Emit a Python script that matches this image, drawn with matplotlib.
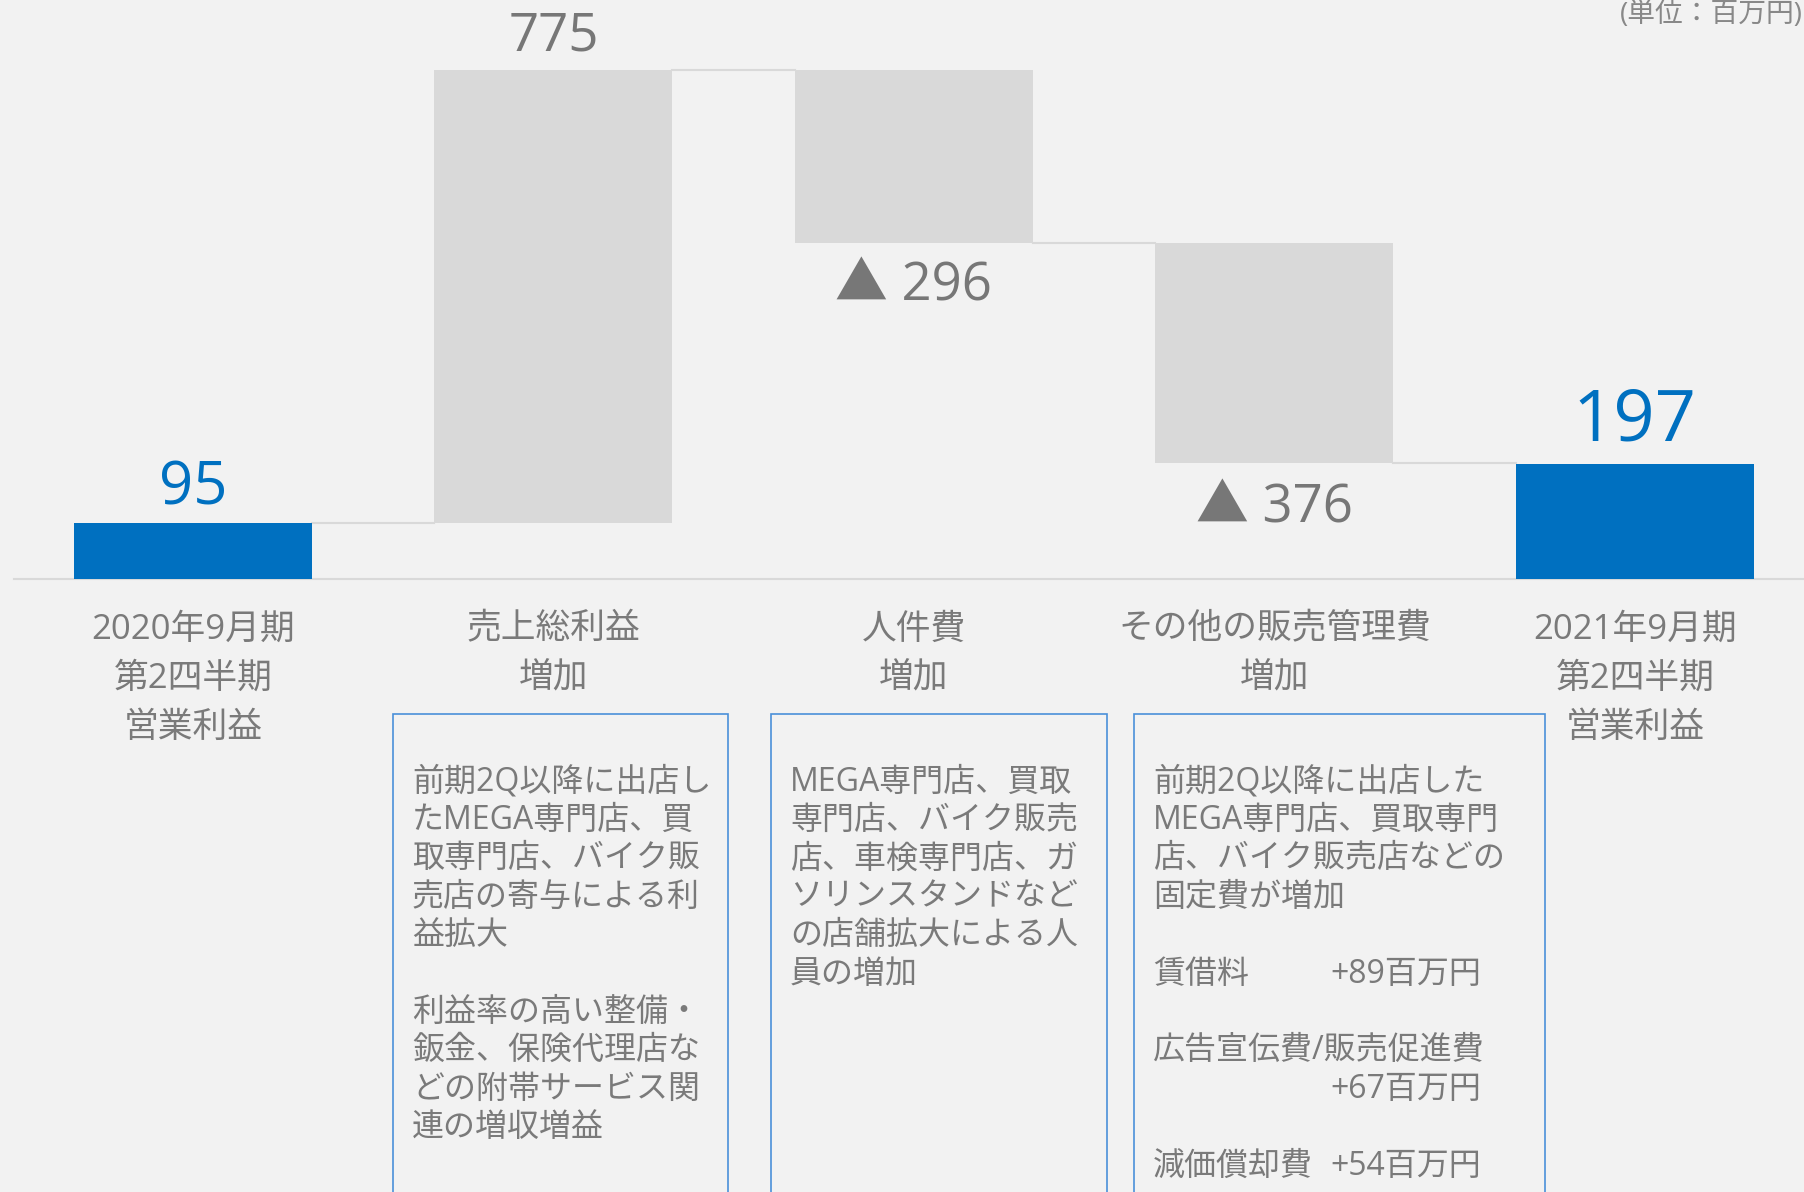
import matplotlib
matplotlib.use("Agg")
import matplotlib.pyplot as plt
import matplotlib.transforms as mtransforms
from matplotlib.patches import Rectangle

plt.rcParams['font.family'] = ['Open Sans', 'Noto Sans CJK JP', 'DejaVu Sans']

# --- data ---
categories = ["2020年9月期\n第2四半期\n営業利益", "売上総利益\n増加", "人件費\n増加",
              "その他の販売管理費\n増加", "2021年9月期\n第2四半期\n営業利益"]
values = [95, 775, -296, -376, 197]
is_total = [True, False, False, False, True]
value_labels = ["95", "775", "▲ 296", "▲ 376", "197"]
unit_label = "(単位：百万円)"

box1_lines = ["前期2Q以降に出店し", "たMEGA専門店、買", "取専門店、バイク販", "売店の寄与による利",
              "益拡大", "", "利益率の高い整備・", "鈑金、保険代理店な", "どの附帯サービス関",
              "連の増収増益"]
box2_lines = ["MEGA専門店、買取", "専門店、バイク販売", "店、車検専門店、ガ", "ソリンスタンドなど",
              "の店舗拡大による人", "員の増加"]
box3_lines = [("前期2Q以降に出店した", ""), ("MEGA専門店、買取専門", ""), ("店、バイク販売店などの", ""),
              ("固定費が増加", ""), ("", ""), ("賃借料", "+89百万円"), ("", ""),
              ("広告宣伝費/販売促進費", ""), ("", "+67百万円"), ("", ""), ("減価償却費", "+54百万円")]

BG = "#f2f2f2"
BLUE = "#0070c0"
GRAY_BAR = "#d9d9d9"
TXT = "#7a7a7a"
W, H = 1804, 1192

fig = plt.figure(figsize=(W / 100, H / 100), dpi=100, facecolor=BG)
ax = fig.add_axes([0, 0, 1, 1])
ax.set_facecolor(BG)
ax.set_xlim(-0.535, 4.469)
ax.set_ylim(-1048, 990)
ax.axis("off")

def fx(px):
    return px / W

def fy(py):
    return 1 - py / H

# waterfall bars
bw = 0.66
running = 0
tops = []
for i, (v, tot) in enumerate(zip(values, is_total)):
    if tot:
        bottom, height = 0, v
        running = v
        color = BLUE
    else:
        start = running
        running = running + v
        bottom, height = min(start, running), abs(v)
        color = GRAY_BAR
    ax.bar(i, height, bottom=bottom, width=bw, color=color, zorder=2)
    tops.append((bottom, bottom + height))

# connectors
running = 0
for i, v in enumerate(values[:-1]):
    running = v if is_total[i] else running + v
    ax.plot([i + bw / 2, i + 1 - bw / 2], [running, running], color=GRAY_BAR, lw=1.5, zorder=1)

ax.axhline(0, xmin=fx(14), xmax=1, color=GRAY_BAR, lw=1.5, zorder=1)

# value labels
label_sizes = [43, 38, 38, 38, 52]
label_offsets = [35, 33, 43, 46, 42]
for i, (lab, v) in enumerate(zip(value_labels, values)):
    lo, hi = tops[i]
    color = BLUE if is_total[i] else "#777777"
    if v >= 0:
        ax.annotate(lab, (i, hi), xytext=(0, label_offsets[i] * 0.72), textcoords="offset points",
                    ha="center", va="center", fontsize=label_sizes[i], color=color)
    else:
        ax.annotate(lab, (i, lo), xytext=(0, -label_offsets[i] * 0.72), textcoords="offset points",
                    ha="center", va="center", fontsize=label_sizes[i], color=color)

# category labels
trans = mtransforms.blended_transform_factory(ax.transData, fig.transFigure)
for i, cat in enumerate(categories):
    for j, line in enumerate(cat.split("\n")):
        ax.text(i, fy(629.5 + j * 49), line, transform=trans, ha="center", va="center",
                fontsize=25, color=TXT)

# text boxes
boxes = [(393, 728), (771, 1107), (1134, 1545)]
for x0, x1 in boxes:
    fig.patches.append(Rectangle((fx(x0), fy(1250)), fx(x1 - x0), (1250 - 714) / H,
                                 transform=fig.transFigure, fill=False,
                                 edgecolor="#4a90d9", lw=1.2))

lh = 38.4
y0 = 782
for lines, tx in [(box1_lines, 412), (box2_lines, 790)]:
    for j, line in enumerate(lines):
        fig.text(fx(tx), fy(y0 + j * lh), line, ha="left", va="center", fontsize=23, color=TXT)
for j, (left, right) in enumerate(box3_lines):
    if left:
        fig.text(fx(1153), fy(y0 + j * lh), left, ha="left", va="center", fontsize=23, color=TXT)
    if right:
        fig.text(fx(1481), fy(y0 + j * lh), right, ha="right", va="center", fontsize=23, color=TXT)

fig.text(fx(1803), fy(15), unit_label, ha="right", va="center", fontsize=20, color="#888888")

fig.savefig("out.png", dpi=100, facecolor=BG)
